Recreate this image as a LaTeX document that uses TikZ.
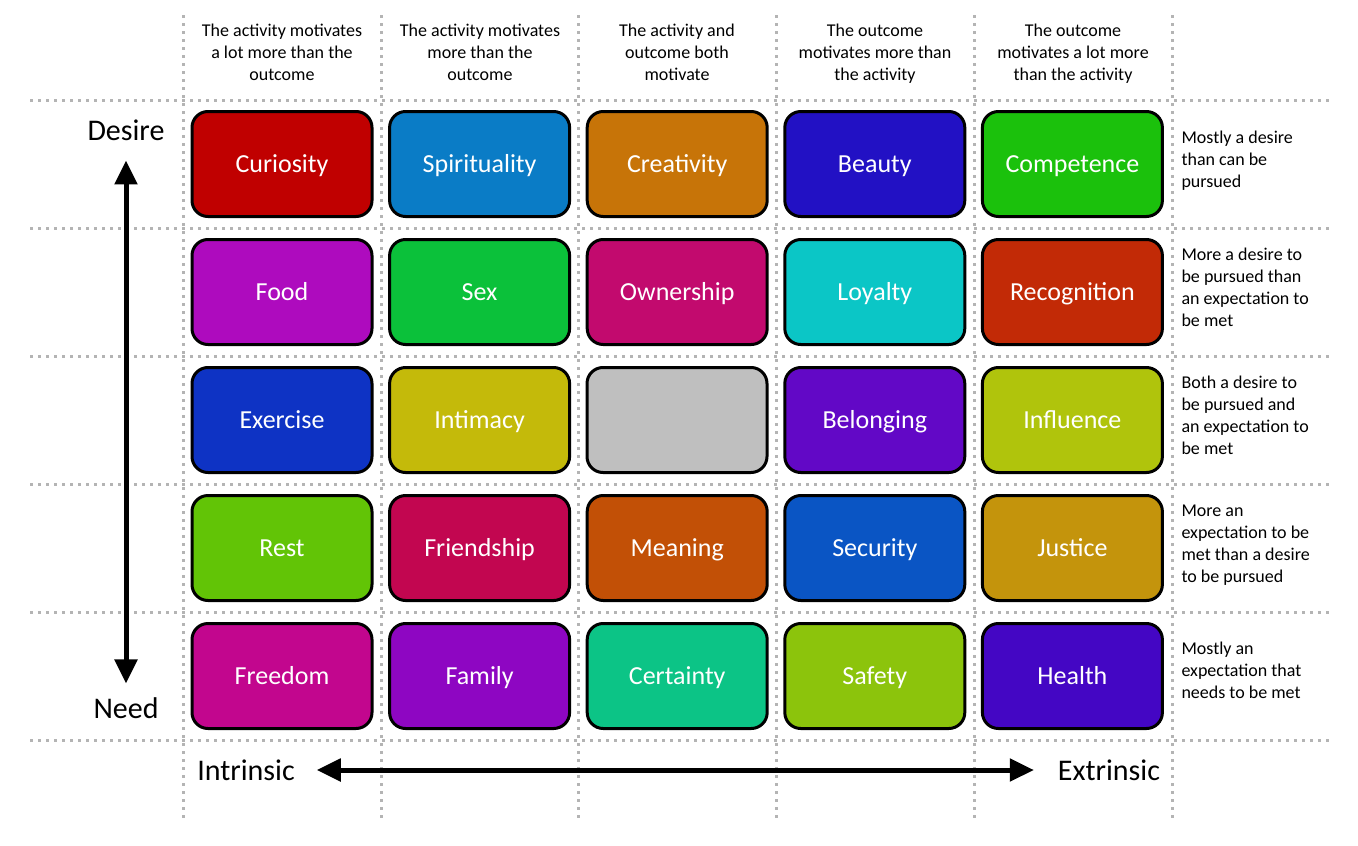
\documentclass[tikz,border=0pt]{standalone}
\usepackage{fontspec}
\setmainfont{Carlito}
\usetikzlibrary{arrows.meta}

\definecolor{cCuriosity}{HTML}{C00000}
\definecolor{cSpirituality}{HTML}{0A7CC6}
\definecolor{cCreativity}{HTML}{C77408}
\definecolor{cBeauty}{HTML}{2211C4}
\definecolor{cCompetence}{HTML}{1BC10C}
\definecolor{cFood}{HTML}{AE0BBE}
\definecolor{cSex}{HTML}{0BC13A}
\definecolor{cOwnership}{HTML}{C20A6E}
\definecolor{cLoyalty}{HTML}{0BC6C6}
\definecolor{cRecognition}{HTML}{C22A06}
\definecolor{cExercise}{HTML}{0E33C4}
\definecolor{cIntimacy}{HTML}{C4BA0A}
\definecolor{cBlank}{HTML}{BFBFBF}
\definecolor{cBelonging}{HTML}{6208C6}
\definecolor{cInfluence}{HTML}{B0C40C}
\definecolor{cRest}{HTML}{62C406}
\definecolor{cFriendship}{HTML}{C20650}
\definecolor{cMeaning}{HTML}{C25006}
\definecolor{cSecurity}{HTML}{0A55C4}
\definecolor{cJustice}{HTML}{C4940C}
\definecolor{cFreedom}{HTML}{C2068E}
\definecolor{cFamily}{HTML}{8E06C2}
\definecolor{cCertainty}{HTML}{0CC486}
\definecolor{cSafety}{HTML}{8CC40C}
\definecolor{cHealth}{HTML}{4406C4}
\definecolor{gridgray}{HTML}{B4B4B4}

\begin{document}
\begin{tikzpicture}[x=1pt,y=-1pt,
  gridline/.style={gridgray,line width=3pt,dash pattern=on 3pt off 5pt},
  motive/.style={draw=black,line width=3pt,rounded corners=16pt,
    minimum width=180pt,minimum height=105pt,text=white,
    text height=20pt,text depth=4pt,
    font=\fontsize{26}{30}\selectfont},
  colhead/.style={anchor=north,align=center,font=\fontsize{18}{22}\selectfont},
  rowhead/.style={anchor=west,align=left,font=\fontsize{18}{22}\selectfont},
  axislabel/.style={inner sep=0pt,outer sep=0pt,font=\fontsize{30}{36}\selectfont},
  axis/.style={line width=5pt,{Triangle[width=22pt,length=24pt]}-{Triangle[width=22pt,length=24pt]}}]
\useasboundingbox (0,0) rectangle (1358,846);

% grid
\foreach \y in {100,228,356,484,612,740}
  \draw [gridline] (30,\y) -- (1330,\y);
\foreach \x in {183,381,578,776,974,1172}
  \draw [gridline] (\x,15) -- (\x,822);

% column headings
\node [colhead] (h1) at (282,20) {The activity motivates\\a lot more than the\\outcome};
\node [colhead] (h2) at (480,20) {The activity motivates\\more than the\\outcome};
\node [colhead] (h3) at (677,20) {The activity and\\outcome both\\motivate};
\node [colhead] (h4) at (875,20) {The outcome\\motivates more than\\the activity};
\node [colhead] (h5) at (1073,20) {The outcome\\motivates a lot more\\than the activity};

% motives
\foreach \lbl/\c/\r in {Curiosity/0/0,Spirituality/1/0,Creativity/2/0,Beauty/3/0,Competence/4/0,
    Food/0/1,Sex/1/1,Ownership/2/1,Loyalty/3/1,Recognition/4/1,
    Exercise/0/2,Intimacy/1/2,Belonging/3/2,Influence/4/2,
    Rest/0/3,Friendship/1/3,Meaning/2/3,Security/3/3,Justice/4/3,
    Freedom/0/4,Family/1/4,Certainty/2/4,Safety/3/4,Health/4/4}
  \node [motive,fill=c\lbl] (\lbl) at (282+197.6*\c,164+128*\r) {\lbl};
\node [motive,fill=cBlank] (blank) at (677,420) {};

% row headings
\node [rowhead] (r1) at (1178,161) {Mostly a desire\\than can be\\pursued};
\node [rowhead] (r2) at (1178,287) {More a desire to\\be pursued than\\an expectation to\\be met};
\node [rowhead] (r3) at (1178,415) {Both a desire to\\be pursued and\\an expectation to\\be met};
\node [rowhead] (r4) at (1178,545) {More an\\expectation to be\\met than a desire\\to be pursued};
\node [rowhead] (r5) at (1178,670) {Mostly an\\expectation that\\needs to be met};

% axes
\node [axislabel] (desire) at (126,130) {Desire};
\node [axislabel] (need) at (126,708) {Need};
\node [axislabel] (intrinsic) at (246,770) {Intrinsic};
\node [axislabel] (extrinsic) at (1109,770) {Extrinsic};
\draw [axis,shorten <=20pt,shorten >=14pt] (desire) -- (need);
\draw [axis,shorten <=22pt,shorten >=24pt] (intrinsic) -- (extrinsic);
\end{tikzpicture}
\end{document}
